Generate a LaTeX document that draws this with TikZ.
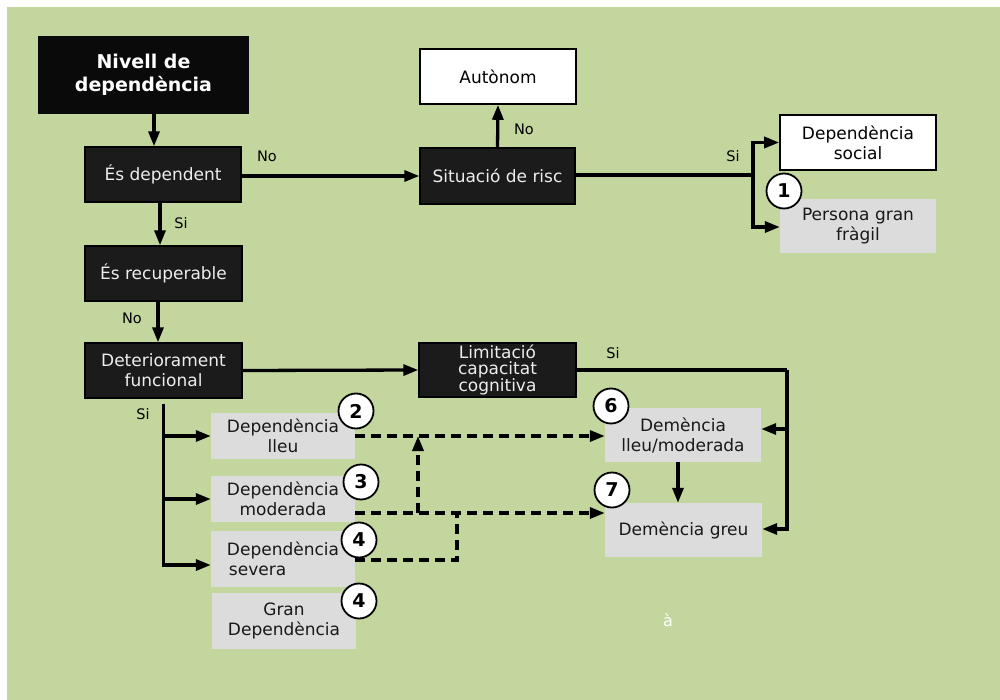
\documentclass[tikz,border=0pt]{standalone}
\usepackage{fontspec}
\setmainfont{DejaVu Sans}
\usetikzlibrary{arrows.meta,calc}
\definecolor{bggreen}{RGB}{195,214,158}
\definecolor{darkbox}{RGB}{27,27,27}
\definecolor{titlebox}{RGB}{10,10,10}
\definecolor{graybox}{RGB}{220,220,220}
\begin{document}
\begin{tikzpicture}[x=1pt,y=-1pt,
  bx/.style 2 args={minimum width=#1pt, minimum height=#2pt, inner sep=0pt, align=center, font=\fontsize{17}{20}\selectfont},
  darkb/.style={fill=darkbox, draw=black, line width=1.4pt, text=white!93!black},
  whiteb/.style={fill=white, draw=black, line width=1.6pt, text=black},
  grayb/.style={fill=graybox, text=black!90},
  num/.style={circle, fill=white, draw=black, line width=1.8pt, minimum size=35pt, inner sep=0pt, font=\fontsize{19}{19}\bfseries\selectfont},
  lbl/.style={font=\fontsize{14.5}{14.5}\selectfont, text=black, inner sep=0pt},
  ln/.style={line width=3.3pt},
  arr/.style={line width=3.3pt, -{Triangle[length=15pt,width=11pt]}},
  dln/.style={line width=3.3pt, dash pattern=on 10pt off 6pt},
  darr/.style={line width=3.3pt, dash pattern=on 10pt off 6pt, -{Triangle[length=15pt,width=11pt]}}
]
\useasboundingbox (0,0) rectangle (1000,700);
\fill[white] (0,0) rectangle (1000,700);
\fill[bggreen] (7,7) rectangle (1000,700);

% nodes
\node[bx={211}{78}, fill=titlebox, text=white, font=\fontsize{19}{22.5}\bfseries\selectfont] (title) at (143.5,75) {Nivell de\\dependència};
\node[bx={156}{55}, darkb] (dep) at (163,174.5) {És dependent};
\node[bx={157}{55}, darkb] (rec) at (163.5,273.5) {És recuperable};
\node[bx={157}{55}, darkb] (det) at (163.5,370.5) {Deteriorament\\funcional};
\node[bx={155}{56}, darkb] (risc) at (497.5,176) {Situació de risc};
\node[bx={156}{55}, whiteb] (aut) at (498,76.5) {Autònom};
\node[bx={156}{55}, whiteb] (social) at (858,142.5) {Dependència\\social};
\node[bx={156}{54}, grayb] (fragil) at (858,226) {Persona gran\\fràgil};
\node[bx={157}{54}, darkb, font=\fontsize{17}{15.5}\selectfont] (lim) at (497.5,370) {Limitació\\capacitat\\cognitiva};
\node[bx={144}{46}, grayb] (dlleu) at (283,436) {Dependència\\lleu};
\node[bx={144}{46}, grayb] (dmod) at (283,499) {Dependència\\moderada};
\node[bx={144}{56}, grayb, align=left] (dsev) at (283,559) {Dependència\\\kern2pt severa};
\node[bx={144}{56}, grayb] (gran) at (284,621) {Gran\\Dependència};
\node[bx={156}{54}, grayb] (demlleu) at (683,435) {Demència\\lleu/moderada};
\node[bx={157}{54}, grayb] (demgreu) at (683.5,530) {Demència greu};

% branch coordinates
\coordinate (br1) at (753,175);
\coordinate (br2) at (787,370);
\coordinate (j1) at (418,513);
\coordinate (j2) at (457,515);

% solid connectors
\draw[arr] ([xshift=10.5pt]title.south) -- ([xshift=-9pt]dep.north);
\draw[arr] ([xshift=-3pt]dep.south) -- ([xshift=-3.5pt]rec.north);
\draw[arr] ([xshift=-5.5pt]rec.south) -- ([xshift=-5.5pt]det.north);
\draw[arr] ([yshift=-1.5pt]dep.east) -- (risc.west);
\draw[arr] (risc.north) -- (aut.south);
\draw[ln] ([yshift=1pt]risc.east) -- (br1);
\draw[arr] (br1) |- (social.west);
\draw[arr] (br1) |- ([yshift=-1pt]fragil.west);
\draw[arr] (det.east) -- (lim.west);
\draw[ln] (lim.east) -- (br2);
\draw[arr] (br2) |- ([yshift=1pt]demgreu.east);
\draw[arr] ([yshift=6pt]demlleu.east -| br2) -- ([yshift=6pt]demlleu.east);
\draw[arr] ([xshift=-5pt]demlleu.south) -- ([xshift=-5.5pt]demgreu.north);
\draw[arr] ([yshift=-5pt]det.south) |- ([yshift=-6pt]dsev.west);
\draw[arr] (det.south |- dlleu.west) -- (dlleu.west);
\draw[arr] (det.south |- dmod.west) -- (dmod.west);

% dashed connectors
\draw[darr] (dlleu.east) -- (dlleu.east -| demlleu.west);
\draw[darr] ([yshift=-14pt]dmod.east) -- ([yshift=-14pt]dmod.east -| demgreu.west);
\draw[darr] (j1) -- (j1 |- dlleu.east);
\draw[dln] ([yshift=-1pt]dsev.east) -| (j2);

% labels
\node[lbl] (l1) at (267,156) {No};
\node[lbl] (l2) at (524,129) {No};
\node[lbl] (l3) at (733,156) {Si};
\node[lbl] (l4) at (181,223) {Si};
\node[lbl] (l5) at (132,318) {No};
\node[lbl] (l6) at (143,414) {Si};
\node[lbl] (l7) at (613,353) {Si};
\node[font=\fontsize{16}{16}\selectfont, text=white, inner sep=0pt] (stray) at (668,620) {à};

% numbered circles
\node[num] (n1) at (784,191) {1};
\node[num] (n2) at (356,411) {2};
\node[num] (n3) at (361,482) {3};
\node[num] (n4a) at (359,540) {4};
\node[num] (n4b) at (359,601) {4};
\node[num] (n6) at (611,406) {6};
\node[num] (n7) at (612,490) {7};
\end{tikzpicture}
\end{document}
